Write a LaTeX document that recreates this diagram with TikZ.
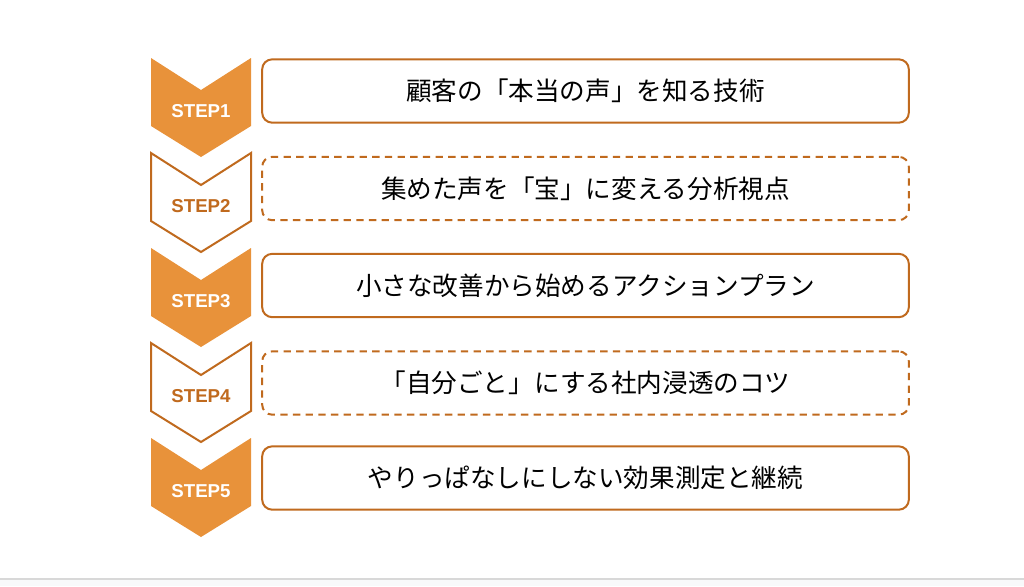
\documentclass[tikz,border=0pt]{standalone}
\usepackage{fontspec}
\setmainfont{Liberation Sans}
\newfontfamily\jpfont{Noto Sans CJK JP}
\definecolor{stepfill}{HTML}{E8923A}
\definecolor{stepline}{HTML}{C06A1E}
\definecolor{rulegray}{HTML}{D8D8D8}
\definecolor{basefill}{HTML}{F8F9FA}

\begin{document}
\begin{tikzpicture}[x=0.75pt,y=-0.75pt,
        chevfull/.style={fill=stepfill, draw=none},
        chevline/.style={draw=stepline, line width=1.5pt, fill=white, line join=miter},
        steplabel/.style={font=\bfseries\fontsize{14}{16}\selectfont, inner sep=0pt},
        topicbox/.style={draw=stepline, line width=1.5pt, rounded corners=7.5pt, fill=white,
            minimum width=485pt, minimum height=47.5pt, inner sep=0pt,
            font=\jpfont\fontsize{19.2}{22}\selectfont},
        dashbox/.style={topicbox, dash pattern=on 5.5pt off 4pt}]
        \useasboundingbox (0,0) rectangle (1024,586);
        \fill [basefill] (0,579) rectangle (1024,586);
        \draw [rulegray, line width=1pt] (0,579) -- (1024,579);
        % chevrons
        \fill [chevfull] (151,58) -- (201,90) -- (251,58) -- (251,126) -- (201,157) -- (151,126) -- cycle;
        \draw [chevline] (151,153) -- (201,185) -- (251,153) -- (251,221) -- (201,252) -- (151,221) -- cycle;
        \fill [chevfull] (151,248) -- (201,280) -- (251,248) -- (251,316) -- (201,347) -- (151,316) -- cycle;
        \draw [chevline] (151,343) -- (201,375) -- (251,343) -- (251,411) -- (201,442) -- (151,411) -- cycle;
        \fill [chevfull] (151,438) -- (201,470) -- (251,438) -- (251,506) -- (201,537) -- (151,506) -- cycle;
        \node [steplabel, text=white] (s1) at (201,111) {STEP1};
        \node [steplabel, text=stepline] (s2) at (201,206) {STEP2};
        \node [steplabel, text=white] (s3) at (201,301) {STEP3};
        \node [steplabel, text=stepline] (s4) at (201,396) {STEP4};
        \node [steplabel, text=white] (s5) at (201,491) {STEP5};
        % boxes
        \node [topicbox] (b1) at (585.5,91) {顧客の「本当の声」を知る技術};
        \node [dashbox] (b2) at (585.5,188.5) {集めた声を「宝」に変える分析視点};
        \node [topicbox] (b3) at (585.5,285.5) {小さな改善から始めるアクションプラン};
        \node [dashbox] (b4) at (585.5,383) {「自分ごと」にする社内浸透のコツ};
        \node [topicbox] (b5) at (585.5,478) {やりっぱなしにしない効果測定と継続};
    \end{tikzpicture}
\end{document}
